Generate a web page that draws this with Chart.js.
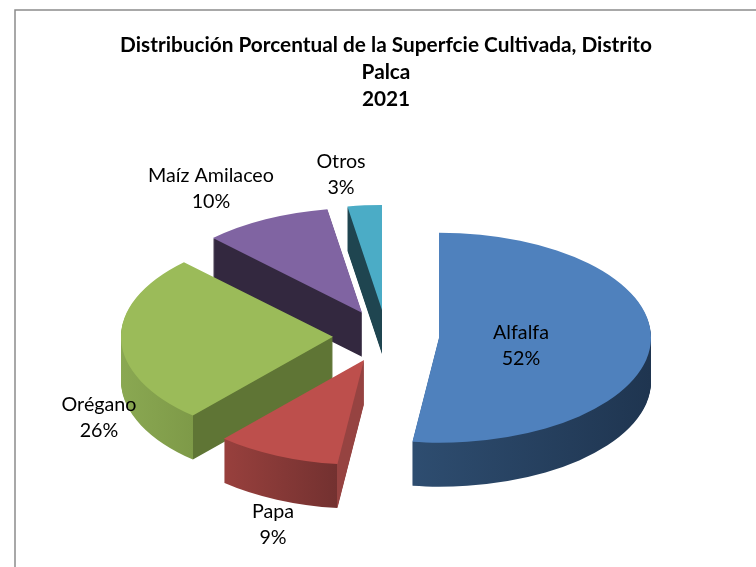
<!DOCTYPE html>
<html lang="es">
<head>
<meta charset="utf-8">
<title>Superficie cultivada Palca</title>
<script src="https://cdn.jsdelivr.net/npm/chart.js@4"></script>
<style>
    body { margin: 0; background: #fff; }
    canvas { display: block; }
</style>
</head>
<body>
<canvas id="pieChart" width="756" height="567"></canvas>
<script>
const titleLines = ["Distribución Porcentual de la Superfcie Cultivada, Distrito", "Palca", "2021"];
const categories = ["Alfalfa", "Papa", "Orégano", "Maíz Amilaceo", "Otros"];
const shares = [52, 9.49, 26.1, 9.8, 2.61];

const topColors = ["#4f81bd", "#bd4f4c", "#9bbb59", "#8064a2", "#4bacc6"];
const rimColors = [["#2e4d70", "#1f3550"], ["#98403d", "#733130"], ["#8aa852", "#7e9a48"], ["#33283f", "#33283f"], ["#1f4550", "#1f4550"]];
const wallColors = ["#1f3550", "#964341", "#5f7535", "#33283f", "#1f4550"];

// Centre of each label, in page pixels
const labelCentres = [[521, 346], [273, 525], [99, 418], [211, 189], [341, 175]];

const squash = 0.495;
const depth = 44;
const explode = 53;
// Slices go back to front so nearer ones cover the walls behind them
const drawOrder = [4, 3, 2, 1, 0];

// One horizontal gradient for the whole extruded side of a slice.
// Only one face is visible at any x, so hard stops are enough.
function sideGradient(ctx, arc, i) {
    const r = arc.outerRadius;
    const left = arc.x - r;
    const grad = ctx.createLinearGradient(left, 0, arc.x + r, 0);
    const pos = (c) => Math.min(1, Math.max(0, (c + 1) / 2));
    const rimA = Math.cos(Math.min(arc.endAngle, Math.PI));
    const rimB = Math.cos(Math.max(arc.startAngle, 0));
    const wallFrom = Math.cos(arc.startAngle);
    if (rimA < rimB) {
        grad.addColorStop(0, rimColors[i][0]);
        grad.addColorStop(pos(rimA), rimColors[i][0]);
        grad.addColorStop(pos(rimB), rimColors[i][1]);
    } else {
        grad.addColorStop(0, wallColors[i]);
    }
    if (wallFrom < 1 && i !== 0) {
        grad.addColorStop(pos(wallFrom), wallColors[i]);
        grad.addColorStop(1, wallColors[i]);
    }
    return grad;
}

const tiltedPie = {
    id: "tiltedPie",
    beforeDraw(chart) {
        const ctx = chart.ctx;
        ctx.save();
        ctx.strokeStyle = "#8c8c8c";
        ctx.lineWidth = 1.5;
        ctx.beginPath();
        ctx.moveTo(15, 567);
        ctx.lineTo(15, 10);
        ctx.lineTo(756, 10);
        ctx.stroke();
        ctx.restore();
    },
    beforeDatasetDraw(chart) {
        const ctx = chart.ctx;
        const arcs = chart.getDatasetMeta(0).data;
        const paint = (arc, colour, dy) => {
            const base = arc.options;
            const mid = (arc.startAngle + arc.endAngle) / 2;
            arc.options = Object.assign({}, base, { backgroundColor: colour });
            ctx.save();
            ctx.translate(0, arc.y + dy);
            ctx.scale(1, squash);
            ctx.translate(0, -arc.y);
            // whole pixels in x, otherwise the dark side shows along vertical edges
            ctx.translate(Math.round(Math.cos(mid) * explode), Math.sin(mid) * explode);
            arc.draw(ctx);
            ctx.restore();
            arc.options = base;
        };
        drawOrder.forEach((i) => {
            const side = sideGradient(ctx, arcs[i], i);
            for (let dy = depth; dy > 0; dy--) {
                paint(arcs[i], side, dy);
            }
            paint(arcs[i], topColors[i], 0);
        });
        return false;
    },
    afterDatasetsDraw(chart) {
        const ctx = chart.ctx;
        const total = shares.reduce((a, b) => a + b, 0);
        ctx.save();
        ctx.fillStyle = "#000";
        ctx.font = "19.7px Lato";
        ctx.textAlign = "center";
        ctx.textBaseline = "middle";
        categories.forEach((name, i) => {
            const [x, y] = labelCentres[i];
            ctx.fillText(name, x, y - 13);
            ctx.fillText(Math.round(shares[i] / total * 100) + "%", x, y + 13);
        });
        ctx.restore();
    },
};

new Chart(document.getElementById("pieChart"), {
    type: "pie",
    data: {
        labels: categories,
        datasets: [{
            data: shares,
            backgroundColor: topColors,
            borderWidth: 0,
            radius: 212,
        }],
    },
    options: {
        responsive: false,
        animation: false,
        layout: { padding: { left: 16, bottom: 14 } },
        plugins: {
            legend: { display: false },
            tooltip: { enabled: false },
            title: {
                display: true,
                text: titleLines,
                color: "#000",
                font: { family: "Lato", size: 20.8, weight: "bold", lineHeight: 1.3 },
                padding: { top: 32, bottom: 6 },
            },
        },
    },
    plugins: [tiltedPie],
});
</script>
</body>
</html>
